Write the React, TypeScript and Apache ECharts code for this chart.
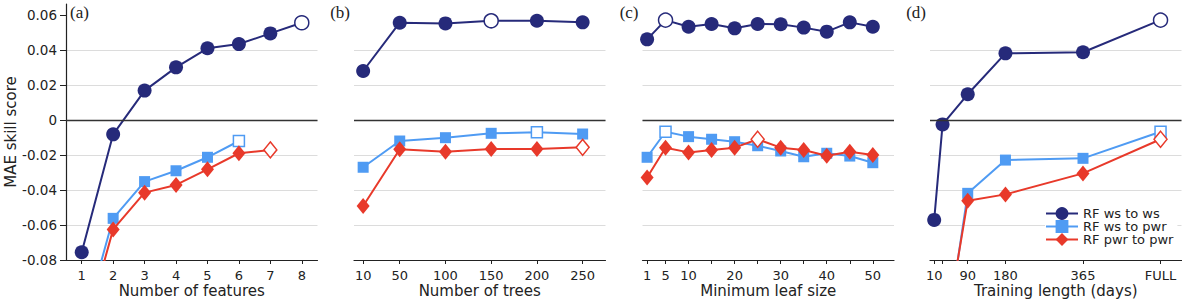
import React, { useEffect, useRef } from "react";
import * as echarts from "echarts";

const NAVY = "#262a7a";
const LBLUE = "#4f9bf3";
const RED = "#e8392a";
const FONT = "DejaVu Sans";

const NAMES = ["RF ws to ws", "RF ws to pwr", "RF pwr to pwr"];

// (a) number of features
const featX = [1, 2, 3, 4, 5, 6, 7, 8];
const featWs = [-0.0756, -0.0082, 0.0168, 0.0301, 0.041, 0.0434, 0.0495, 0.0556];
const featWsPwr = [-0.121, -0.0562, -0.0352, -0.029, -0.0213, -0.012];
const featPwr = [-0.127, -0.0625, -0.0415, -0.0371, -0.0282, -0.019, -0.0171];

// (b) number of trees
const treesX = [10, 50, 100, 150, 200, 250];
const treesWs = [0.028, 0.0556, 0.0552, 0.0567, 0.0567, 0.0558];
const treesWsPwr = [-0.027, -0.012, -0.0101, -0.0076, -0.007, -0.008];
const treesPwr = [-0.0491, -0.0167, -0.0181, -0.0166, -0.0166, -0.0156];

// (c) minimum leaf size
const leafX = [1, 5, 10, 15, 20, 25, 30, 35, 40, 45, 50];
const leafWs = [0.0461, 0.0571, 0.0533, 0.0549, 0.0524, 0.0549, 0.0547, 0.0528, 0.0505, 0.0558, 0.0533];
const leafWsPwr = [-0.0213, -0.0067, -0.0095, -0.011, -0.0124, -0.0147, -0.0177, -0.021, -0.019, -0.0206, -0.0244];
const leafPwr = [-0.0328, -0.0158, -0.0185, -0.0171, -0.0158, -0.011, -0.0158, -0.0171, -0.0204, -0.0181, -0.02];

// (d) training length (days); FULL plotted at 550
const trainX = [10, 30, 90, 180, 365, 550];
const trainWs = [-0.0571, -0.0025, 0.0147, 0.0381, 0.0387, 0.0571];
const trainXPwr = [30, 90, 180, 365, 550];
const trainWsPwr = [-0.1385, -0.0419, -0.0229, -0.0219, -0.0067];
const trainPwr = [-0.1315, -0.0461, -0.0425, -0.0305, -0.011];

// open (selected) markers: index of hollow point per series
const openIdx = [
  [7, 5, 6],
  [3, 4, 5],
  [1, 1, 5],
  [5, 4, 4],
];

const panelLabels = ["(a)", "(b)", "(c)", "(d)"];
const xNames = ["Number of features", "Number of trees", "Minimum leaf size", "Training length (days)"];
const xMins = [0.5, 0, 0, 0];
const xMaxs = [8.5, 275, 54.6, 600];
const xTickVals = [featX, treesX, leafX, trainX];
const xLabelVals = [featX, treesX, [1, 5, 10, 20, 30, 40, 50], [10, 90, 180, 365, 550]];
const yTicks = [-0.08, -0.06, -0.04, -0.02, 0, 0.02, 0.04, 0.06];

const Y_MIN = -0.08;
const Y_MAX = 0.0663;

const lefts = [66, 354, 642.5, 930];
const WIDTH = 251.5;
const TOP = 4;
const BOTTOM_Y = 260;

export default function App() {
  const ref = useRef<HTMLDivElement>(null);
  useEffect(() => {
    document.body.style.margin = "0";
    const chart = echarts.init(ref.current!, null, { renderer: "svg" });

    const panels = [
      { xs: [featX, featX.slice(0, 6), featX.slice(0, 7)], ys: [featWs, featWsPwr, featPwr] },
      { xs: [treesX, treesX, treesX], ys: [treesWs, treesWsPwr, treesPwr] },
      { xs: [leafX, leafX, leafX], ys: [leafWs, leafWsPwr, leafPwr] },
      { xs: [trainX, trainXPwr, trainXPwr], ys: [trainWs, trainWsPwr, trainPwr] },
    ];
    const colors = [NAVY, LBLUE, RED];
    const symbols = ["circle", "rect", "diamond"];
    const sizes: any[] = [14, 11, [13, 16]];

    const grid = lefts.map((l) => ({
      left: l,
      width: WIDTH,
      top: TOP,
      height: BOTTOM_Y - TOP,
      outerBoundsMode: "none",
      containLabel: false,
    }));

    const xAxis = lefts.map((_, i) => ({
      type: "value",
      gridIndex: i,
      min: xMins[i],
      max: xMaxs[i],
      name: xNames[i],
      nameLocation: "middle",
      nameGap: 23,
      nameMoveOverlap: false,
      nameTextStyle: { fontFamily: FONT, fontSize: 15, color: "#222", lineHeight: 15 },
      axisLine: { show: true, onZero: false, lineStyle: { color: "#222", width: 1.2 } },
      axisTick: { show: true, length: 4, customValues: xTickVals[i], lineStyle: { color: "#222" } },
      axisLabel: {
        show: true,
        customValues: xLabelVals[i],
        margin: 9,
        fontFamily: FONT,
        fontSize: 13,
        color: "#222",
        formatter: (v: number) => (i === 3 && v === 550 ? "FULL" : String(v)),
      },
      splitLine: { show: false },
    }));

    const yAxis = lefts.map((_, i) => ({
      type: "value",
      gridIndex: i,
      min: Y_MIN,
      max: Y_MAX,
      name: i === 0 ? "MAE skill score" : "",
      nameLocation: "middle",
      nameGap: 48,
      nameMoveOverlap: false,
      nameTextStyle: { fontFamily: FONT, fontSize: 15, color: "#222" },
      axisLine: { show: i === 0, lineStyle: { color: "#222", width: 1.2 } },
      axisTick: { show: i === 0, length: 6, customValues: yTicks, lineStyle: { color: "#222" } },
      axisLabel: {
        show: i === 0,
        customValues: yTicks,
        margin: 9,
        fontFamily: FONT,
        fontSize: 13.5,
        color: "#222",
        formatter: (v: number) => (Math.abs(v) < 1e-9 ? "0" : v.toFixed(2)),
      },
      splitLine: { show: true, showMaxLine: false, showMinLine: false, lineStyle: { color: "#dcdcdc", width: 1 } },
    }));

    const series: any[] = [];
    panels.forEach((p, i) => {
      series.push({
        type: "line",
        name: "zero",
        xAxisIndex: i,
        yAxisIndex: i,
        data: [],
        z: 1,
        silent: true,
        markLine: {
          silent: true,
          symbol: "none",
          label: { show: false },
          lineStyle: { color: "#333", width: 1.3, type: "solid" },
          data: [{ yAxis: 0 }],
        },
      });
      for (let s = 0; s < 3; s++) {
        const c = colors[s];
        series.push({
          type: "line",
          name: NAMES[s],
          xAxisIndex: i,
          yAxisIndex: i,
          clip: true,
          z: 3 + s,
          symbol: symbols[s],
          symbolSize: sizes[s],
          lineStyle: { color: c, width: 2 },
          itemStyle: { color: c },
          emphasis: { disabled: true },
          data: p.xs[s].map((x: number, j: number) => ({
            value: [x, p.ys[s][j]],
            itemStyle:
              j === openIdx[i][s]
                ? { color: "#fff", borderColor: c, borderWidth: 1.5 }
                : undefined,
          })),
        });
      }
    });

    const graphic = panelLabels.map((t, i) => ({
      type: "text",
      x: i === 0 ? 70 : lefts[i] - 4,
      y: 12,
      style: {
        text: t,
        font: '17px "Liberation Serif"',
        fill: "#222",
        textAlign: i === 0 ? "left" : "right",
        textVerticalAlign: "middle",
      },
    }));

    chart.setOption({
      animation: false,
      grid,
      xAxis,
      yAxis,
      series,
      graphic,
      legend: {
        data: NAMES,
        orient: "vertical",
        left: 1045,
        top: 206,
        itemWidth: 32,
        itemHeight: 16,
        itemGap: 0,
        padding: [1, 4, 1, 0],
        backgroundColor: "#fff",
        selectedMode: false,
        textStyle: { fontFamily: FONT, fontSize: 13, color: "#222" },
      },
    });
    return () => chart.dispose();
  }, []);
  return <div ref={ref} style={{ width: 1182, height: 300 }} />;
}
